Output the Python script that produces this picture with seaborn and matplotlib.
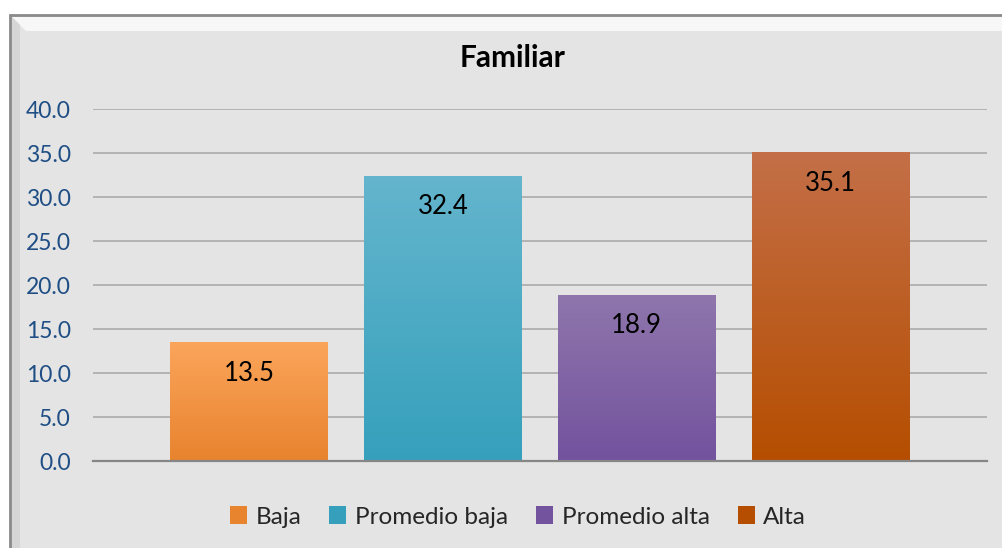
import numpy as np
import matplotlib
matplotlib.use("Agg")
import matplotlib.pyplot as plt
from matplotlib.patches import Rectangle, Patch, Polygon
from matplotlib.colors import to_rgb
import seaborn as sns

# chart data
categories = ["Baja", "Promedio baja", "Promedio alta", "Alta"]
values = [13.5, 32.4, 18.9, 35.1]
title = "Familiar"
y_ticks = [0, 5, 10, 15, 20, 25, 30, 35, 40]

# gradient colours (top, bottom) for each bar
top_colors = ["#fba55b", "#64b5cd", "#8f76ac", "#c46f48"]
bottom_colors = ["#e8832e", "#36a0bc", "#73529e", "#b54e00"]

sns.set_theme(style="white")
plt.rcParams["font.family"] = ["Lato", "DejaVu Sans"]

W, H = 1003, 548
fig = plt.figure(figsize=(W / 100, H / 100), dpi=100)
fig.patch.set_facecolor("white")


def fx(px):
    return px / W


def fy(py):
    return 1 - py / H


# chart frame with bevel (behind the axes)
frame = Rectangle((fx(10), fy(560)), fx(1010) - fx(10), fy(15) - fy(560),
                  transform=fig.transFigure, facecolor="#e4e4e4",
                  edgecolor="#8a8a8a", linewidth=2.0, zorder=-3)
fig.patches.append(frame)
top_bevel = Polygon([(fx(12), fy(17)), (fx(1010), fy(17)), (fx(1010), fy(31)), (fx(26), fy(31))],
                    closed=True, transform=fig.transFigure, facecolor="#f7f7f7",
                    edgecolor="none", zorder=-2)
left_bevel = Polygon([(fx(12), fy(17)), (fx(20), fy(25)), (fx(20), fy(560)), (fx(12), fy(560))],
                     closed=True, transform=fig.transFigure, facecolor="#d6d6d6",
                     edgecolor="none", zorder=-2)
fig.patches.append(top_bevel)
fig.patches.append(left_bevel)

ax = fig.add_axes([fx(93), fy(461), fx(987) - fx(93), fy(109) - fy(461)])
ax.set_facecolor("none")
ax.set_zorder(1)

sns.barplot(x=categories, y=values, hue=categories, palette=bottom_colors,
            legend=False, width=0.814, ax=ax, saturation=1)

# replace flat fills with vertical gradients
for patch, c_top, c_bot in zip(ax.patches, top_colors, bottom_colors):
    x0 = patch.get_x()
    w = patch.get_width()
    h = patch.get_height()
    t = np.linspace(0, 1, 256)[:, None]
    grad = (1 - t) * np.array(to_rgb(c_top)) + t * np.array(to_rgb(c_bot))
    im = ax.imshow(grad[:, None, :].repeat(2, axis=1), extent=[x0, x0 + w, 0, h],
                   aspect="auto", origin="upper", zorder=2, interpolation="bilinear")
    im.set_clip_path(patch)
    patch.set_facecolor("none")
    patch.set_edgecolor("none")
    ax.annotate(f"{h:.1f}", xy=(x0 + w / 2, h), xytext=(0, -31),
                textcoords="offset pixels", ha="center", va="center",
                fontsize=18.5, color="black", zorder=3)

ax.set_xlim(-0.804, 3.807)
ax.set_ylim(0, 40)
ax.set_yticks(y_ticks)
ax.set_yticklabels([f"{v:.1f}" for v in y_ticks], color="#1f4e85", fontsize=16.5)
ax.set_xticks([])
ax.tick_params(axis="y", length=0, pad=16)
ax.yaxis.grid(True, color="#a6a6a6", linewidth=1.1)
ax.set_axisbelow(True)
for s in ["top", "right", "left"]:
    ax.spines[s].set_visible(False)
ax.spines["bottom"].set_color("#868686")
ax.spines["bottom"].set_linewidth(1.6)
ax.spines["bottom"].set_zorder(4)
ax.set_xlabel("")
ax.set_ylabel("")

fig.text(fx(513), fy(58), title, ha="center", va="center",
         fontsize=21.5, fontweight="bold", color="black")

handles = [Patch(facecolor=c, edgecolor="none") for c in bottom_colors]
fig.legend(handles, categories, loc="center", bbox_to_anchor=(fx(518), fy(517)),
           ncol=4, frameon=False, fontsize=17.5, handlelength=0.7, handleheight=0.7,
           handletextpad=0.35, columnspacing=1.15)

fig.savefig("out.png", dpi=100, facecolor=fig.get_facecolor())
